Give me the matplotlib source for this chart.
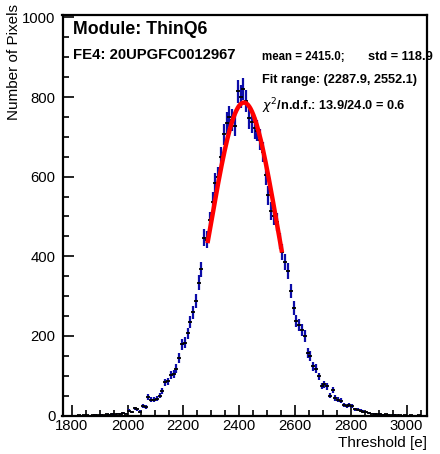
# -*- coding: utf-8 -*-
# Threshold distribution of one FE4 chip with Gaussian fit (ROOT-like style)

import numpy as np
import matplotlib
matplotlib.use("Agg")
import matplotlib.pyplot as plt
from matplotlib.ticker import MultipleLocator

plt.rcParams['font.family'] = ['Liberation Sans', 'DejaVu Sans']

# ===========================
# data
# ===========================
bin_centers = np.arange(1775, 3070, 10)   # 10 e wide bins

counts = [
    # 1775 - 1995
    0, 0, 0, 0, 0, 1, 0, 1, 1, 0, 1, 2, 1, 2, 1, 3, 2, 4, 3, 5, 4, 6, 5,
    # 2005 - 2195
    12, 8, 18, 16, 10, 25, 22, 46, 39, 40, 42, 50, 61, 83, 86, 101, 104, 118, 144, 179,
    # 2205 - 2395
    183, 206, 235, 259, 288, 334, 367, 447, 442, 490, 537, 584, 600, 650, 706, 735, 751, 743, 728, 814,
    # 2405 - 2595
    801, 820, 790, 748, 737, 722, 715, 693, 662, 603, 553, 513, 500, 486, 438, 411, 385, 363, 313, 270,
    # 2605 - 2795
    237, 228, 215, 200, 158, 149, 124, 118, 98, 74, 79, 73, 50, 64, 44, 40, 37, 26, 23, 26,
    # 2805 - 2995
    25, 16, 15, 12, 10, 8, 6, 5, 4, 3, 4, 2, 3, 2, 1, 2, 1, 1, 0, 1,
    # 3005 - 3065
    0, 1, 0, 0, 1, 0, 0,
]

# fit result (gaus)
fit_amp = 786.0
fit_mean = 2417.0
fit_sigma = 119.5
fit_lo, fit_hi = 2287.9, 2552.1

module_name = "Module: ThinQ6"
chip_name = "FE4: 20UPGFC0012967"
mean_text = "mean = 2415.0;"
std_text = "std = 118.9"
range_text = "Fit range: (2287.9, 2552.1)"
chi2_text = r"$\chi^{2}$/n.d.f.: 13.9/24.0 = 0.6"

# ===========================
# plot
# ===========================
W, H = 440, 454
fig = plt.figure(figsize=(W / 100, H / 100), dpi=100)
ax = fig.add_axes([62.5 / W, 1 - 415.5 / H, (427 - 62.5) / W, (415.5 - 15) / H])

x = np.asarray(bin_centers, dtype=float)
y = np.asarray(counts, dtype=float)
keep = y > 0
ax.errorbar(x[keep], y[keep], yerr=np.sqrt(y[keep]), fmt='none',
            ecolor='#0c0ca8', elinewidth=1.6, capsize=0, zorder=2)
ax.plot(x[keep], y[keep], linestyle='none', marker='_', markersize=3,
        markeredgewidth=1.3, color='black', zorder=3)

# gaussian fit curve
xf = np.linspace(fit_lo, fit_hi, 200)
yf = fit_amp * np.exp(-0.5 * ((xf - fit_mean) / fit_sigma) ** 2)
ax.plot(xf, yf, color='#ff0000', linewidth=3.2, zorder=4)

ax.set_xlim(1767, 3073)
ax.set_ylim(0, 1006)

# ROOT style ticks: inside, only bottom / left
ax.xaxis.set_major_locator(MultipleLocator(200))
ax.xaxis.set_minor_locator(MultipleLocator(50))
ax.yaxis.set_major_locator(MultipleLocator(200))
ax.yaxis.set_minor_locator(MultipleLocator(50))
ax.tick_params(which='both', direction='in', top=False, right=False, width=1.2)
ax.tick_params(which='major', length=8.2, labelsize=10.7)
ax.tick_params(axis='x', which='major', pad=2.5)
ax.tick_params(axis='y', which='major', pad=5)
ax.tick_params(which='minor', length=4)
for s in ax.spines.values():
    s.set_linewidth(1.6)
    s.set_zorder(10)

# axis titles
fig.text(14 / W, 1 - 4 / H, "Number of Pixels", rotation=90, ha='center', va='top', fontsize=11)
fig.text(427 / W, 1 - 447 / H, "Threshold [e]", ha='right', va='baseline', fontsize=11)

# labels inside the frame
fig.text(72.7 / W, 1 - 34 / H, module_name, fontsize=12.8, fontweight='bold', va='baseline')
fig.text(72.7 / W, 1 - 59.3 / H, chip_name, fontsize=10.7, fontweight='bold', va='baseline')
fig.text(261.7 / W, 1 - 60 / H, mean_text, fontsize=8.3, fontweight='bold', va='baseline')
fig.text(368 / W, 1 - 60 / H, std_text, fontsize=9.2, fontweight='bold', va='baseline')
fig.text(261.7 / W, 1 - 83.3 / H, range_text, fontsize=9.2, fontweight='bold', va='baseline')
fig.text(261.7 / W, 1 - 110 / H, chi2_text, fontsize=9.2, fontweight='bold', va='baseline')

fig.savefig("out.png", dpi=100)
